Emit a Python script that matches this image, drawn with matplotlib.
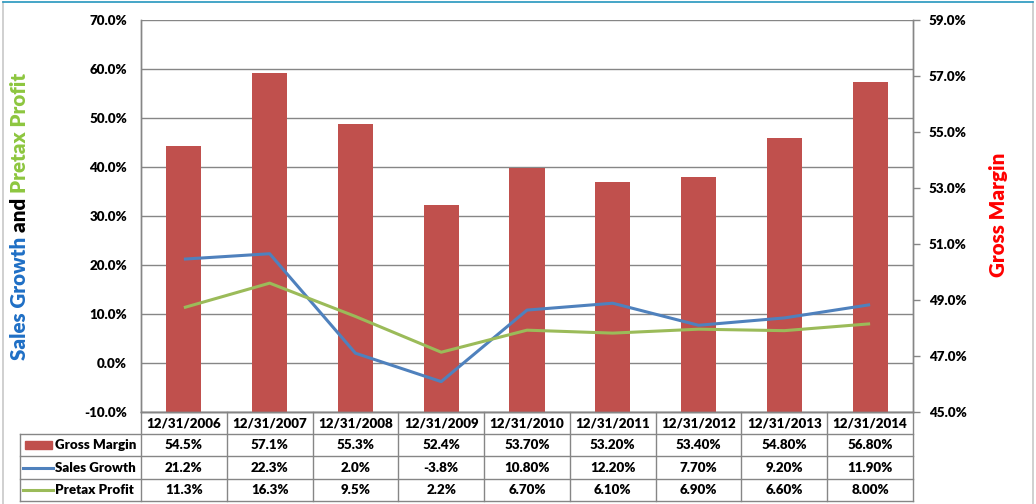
import matplotlib
matplotlib.use("Agg")
import matplotlib.pyplot as plt
from matplotlib.patches import Rectangle
from matplotlib.lines import Line2D

# ---- data ----
dates = ["12/31/2006", "12/31/2007", "12/31/2008", "12/31/2009", "12/31/2010",
         "12/31/2011", "12/31/2012", "12/31/2013", "12/31/2014"]
gross_margin = [54.5, 57.1, 55.3, 52.4, 53.7, 53.2, 53.4, 54.8, 56.8]
sales_growth = [21.2, 22.3, 2.0, -3.8, 10.8, 12.2, 7.7, 9.2, 11.9]
pretax_profit = [11.3, 16.3, 9.5, 2.2, 6.7, 6.1, 6.9, 6.6, 8.0]
gm_labels = ["54.5%", "57.1%", "55.3%", "52.4%", "53.70%", "53.20%", "53.40%", "54.80%", "56.80%"]
sg_labels = ["21.2%", "22.3%", "2.0%", "-3.8%", "10.80%", "12.20%", "7.70%", "9.20%", "11.90%"]
pp_labels = ["11.3%", "16.3%", "9.5%", "2.2%", "6.70%", "6.10%", "6.90%", "6.60%", "8.00%"]
series_names = ["Gross Margin", "Sales Growth", "Pretax Profit"]
left_ticks = [-10, 0, 10, 20, 30, 40, 50, 60, 70]
right_ticks = [45, 47, 49, 51, 53, 55, 57, 59]

BAR_C = "#c0504d"
SG_C = "#4f81bd"
PP_C = "#9bbb59"
GRID_C = "#868686"

plt.rcParams['font.family'] = ['Lato', 'DejaVu Sans']
FS = 9.6
WT = 'heavy'

W, H = 1036, 504
fig = plt.figure(figsize=(W / 100, H / 100), dpi=100)

def fx(px):
    return px / W

def fy(py):
    return 1 - py / H

L, R, T, B = 141, 913, 20, 412
ax = fig.add_axes([fx(L), fy(B), fx(R - L), (B - T) / H])
ax2 = ax.twinx()

x = list(range(len(dates)))
ax.set_xlim(-0.5, len(dates) - 0.5)
ax.set_ylim(-10, 70)
ax2.set_ylim(45, 59)

ax.set_yticks(left_ticks)
ax.set_yticklabels([f"{v:.1f}%" for v in left_ticks], fontsize=FS, fontweight=WT)
ax.yaxis.grid(True, color=GRID_C, linewidth=1.0)
ax.set_axisbelow(True)
ax.tick_params(axis='y', length=0, pad=10)
ax.set_xticks([])

ax2.set_yticks(right_ticks)
ax2.set_yticklabels([f"{v:.1f}%" for v in right_ticks], fontsize=FS, fontweight=WT)
ax2.tick_params(axis='y', length=5, width=1, color=GRID_C, direction='out', pad=6.5)
ax2.set_xticks([])

for a in (ax, ax2):
    for s in a.spines.values():
        s.set_color(GRID_C)
        s.set_linewidth(1.0)
    a.spines['top'].set_visible(False)

ax2.bar(x, gross_margin, width=0.41, color=BAR_C, zorder=2)
ax2.set_ylim(45, 59)
ax2.plot(x, sales_growth, color=SG_C, lw=2.2, transform=ax.transData, zorder=3, solid_capstyle='butt')
ax2.plot(x, pretax_profit, color=PP_C, lw=2.2, transform=ax.transData, zorder=3, solid_capstyle='butt')

# ---- data table ----
col_w = (R - L) / len(dates)
row_y = [412, 434, 456, 479, 501]
TL = 20
lc = GRID_C
fig.add_artist(Line2D([fx(L), fx(R)], [fy(row_y[0])] * 2, color=lc, lw=1))
for yy in row_y[1:]:
    fig.add_artist(Line2D([fx(TL), fx(R)], [fy(yy)] * 2, color=lc, lw=1))
fig.add_artist(Line2D([fx(TL), fx(TL)], [fy(row_y[1]), fy(row_y[-1])], color=lc, lw=1))
for i in range(len(dates) + 1):
    xx = L + i * col_w
    fig.add_artist(Line2D([fx(xx), fx(xx)], [fy(row_y[0]), fy(row_y[-1])], color=lc, lw=1))

rows = [dates, gm_labels, sg_labels, pp_labels]
for r, labels in enumerate(rows):
    yc = (row_y[r] + row_y[r + 1]) / 2
    for i, lab in enumerate(labels):
        fig.text(fx(L + (i + 0.5) * col_w), fy(yc), lab, ha='center', va='center',
                 fontsize=FS, fontweight=WT)

for r, name in enumerate(series_names):
    yc = (row_y[r + 1] + row_y[r + 2]) / 2
    fig.text(fx(55), fy(yc), name, ha='left', va='center', fontsize=FS, fontweight=WT)
yc0 = (row_y[1] + row_y[2]) / 2
fig.add_artist(Rectangle((fx(25), fy(yc0 + 4)), fx(27), 8 / H, color=BAR_C))
for r, c in ((1, SG_C), (2, PP_C)):
    yc = (row_y[r + 1] + row_y[r + 2]) / 2
    fig.add_artist(Line2D([fx(23), fx(53)], [fy(yc)] * 2, color=c, lw=2.2))

# ---- axis titles ----
TFS = 14.8
t1 = fig.text(fx(20), fy(360), "Sales Growth ", rotation=90, ha='center', va='bottom',
              fontsize=TFS, fontweight=WT, color="#1f6fc5")
t2 = fig.text(0, 0, "and ", rotation=90, ha='left', va='bottom', fontsize=TFS,
              fontweight=WT, color="black")
t3 = fig.text(0, 0, "Pretax Profit", rotation=90, ha='left', va='bottom', fontsize=TFS,
              fontweight=WT, color="#8dc63f")
fig.canvas.draw()
rend = fig.canvas.get_renderer()
prev = t1
inv = fig.transFigure.inverted()
for t in (t2, t3):
    bb = prev.get_window_extent(rend)
    (x0, y0), (x1, y1) = inv.transform([[bb.x0, bb.y0], [bb.x1, bb.y1]])
    t.set_position((x0, y1))
    prev = t

fig.text(fx(998), fy(215), "Gross Margin", rotation=90, ha='center', va='center',
         fontsize=TFS, fontweight=WT, color="#ff0000")

# chart border
fig.add_artist(Line2D([fx(2.5), fx(2.5)], [fy(2), fy(504)], color="#c8c8c8", lw=1.2))
fig.add_artist(Line2D([fx(1033), fx(1033)], [fy(2), fy(504)], color="#c8c8c8", lw=1.2))
fig.add_artist(Line2D([fx(3), fx(1033)], [fy(1.5), fy(1.5)], color="#2596be", lw=1.2))

fig.savefig("out.png", dpi=100)
